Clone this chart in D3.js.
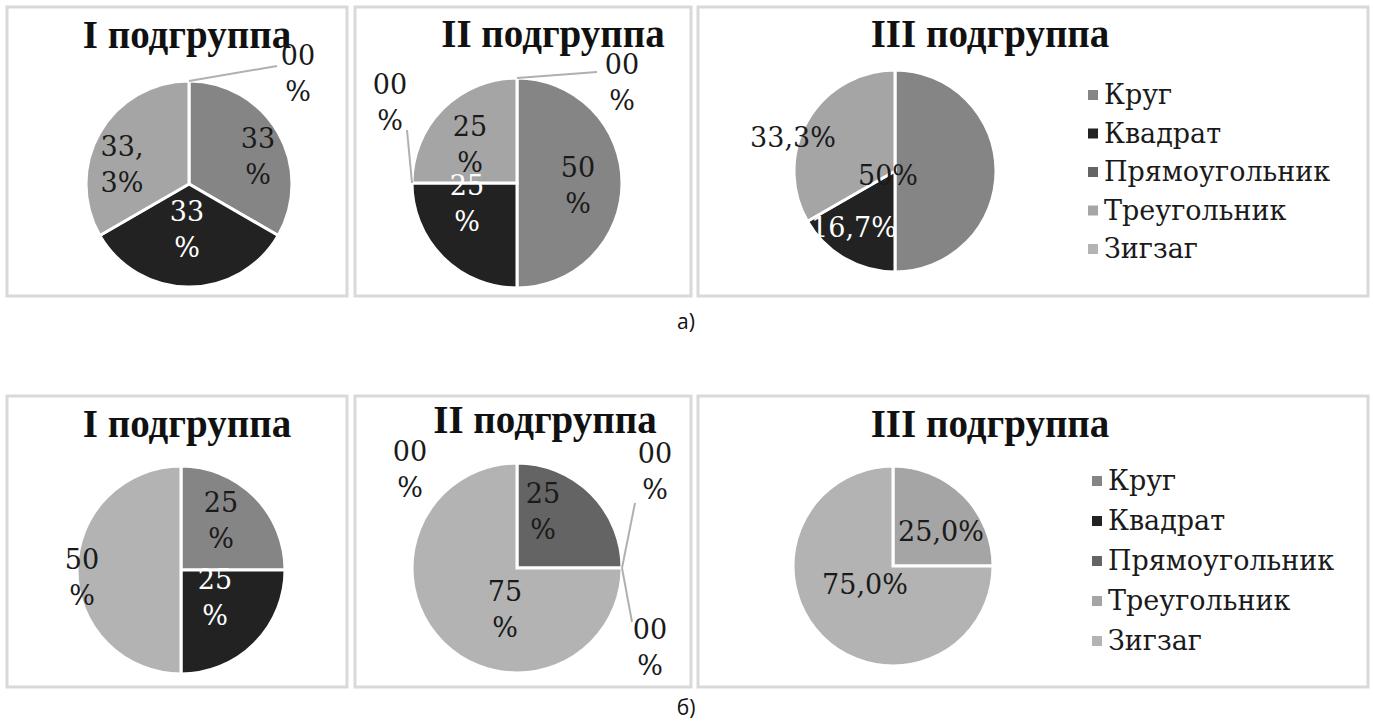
<!DOCTYPE html>
<html>
<head>
<meta charset="utf-8">
<script src="https://cdn.jsdelivr.net/npm/d3@7"></script>
<style>
  html, body { margin: 0; padding: 0; background: #ffffff; }
  svg { display: block; }
  .title { font-family: "Liberation Serif", "DejaVu Serif", serif; font-weight: bold; }
  .txt { font-family: "DejaVu Serif", "Liberation Serif", serif; font-weight: normal; }
</style>
</head>
<body>
<svg id="chart" width="1373" height="724"></svg>
<script>
// Shape categories and their fills (shared legend)
const categories = ["Круг", "Квадрат", "Прямоугольник", "Треугольник", "Зигзаг"];
const categoryColors = ["#858585", "#222222", "#646464", "#a5a5a5", "#b3b3b3"];
const subgroupTitles = ["I подгруппа", "II подгруппа", "III подгруппа"];
const figureCaptions = ["а)", "б)"];

// Shares (%) per subgroup, figure а)
const valuesA1 = [33.3, 33.3, 0, 33.3, 0];
const valuesA2 = [50, 25, 0, 25, 0];
const valuesA3 = [50, 16.7, 0, 33.3, 0];
// Shares (%) per subgroup, figure б)
const valuesB1 = [25, 25, 0, 0, 50];
const valuesB2 = [0, 0, 25, 0, 75];
const valuesB3 = [0, 0, 0, 25, 75];

// Data label texts ("|" = line break, null = not shown)
const labelsA1 = ["33|%", "33|%", null, "33,|3%", "00|%"];
const labelsA2 = ["50|%", "25|%", "00|%", "25|%", "00|%"];
const labelsA3 = ["50%", "16,7%", null, "33,3%", null];
const labelsB1 = ["25|%", "25|%", null, null, "50|%"];
const labelsB2 = ["00|%", "00|%", "25|%", "00|%", "75|%"];
const labelsB3 = [null, null, null, "25,0%", "75,0%"];

// ---- layout ----
const rows = [
  { y0: 7, y1: 296, captionY: 322, values: [valuesA1, valuesA2, valuesA3], labels: [labelsA1, labelsA2, labelsA3] },
  { y0: 396, y1: 687, captionY: 708, values: [valuesB1, valuesB2, valuesB3], labels: [labelsB1, labelsB2, labelsB3] }
];
const panelX = [[7, 347], [355, 691], [698, 1368]];

// per panel: pie centre, radius, title position, label placement
// place: [dx, dy] of the label block relative to the pie centre;
// leader: end of the leader line, attach = angle (deg) where it meets the pie
const panelLayout = [
  [
    { cx: 189, cy: 184, r: 103, tx: 187, ty: 48,
      place: [[69, -27], [-2, 46], null, [-67, -19], [109, -110]],
      leader: [null, null, null, null, { end: [88, -118] }] },
    { cx: 517, cy: 183, r: 105, tx: 553, ty: 47,
      place: [[61, 3], [-50, 21], [-127, -80], [-47, -38], [105, -100]],
      leader: [null, null, { end: [-110, -53] }, null, { end: [80, -111] }] },
    { cx: 895, cy: 171, r: 101, tx: 990, ty: 47,
      place: [[-7, 5], [-41, 57], null, [-102, -33], null],
      leader: [null, null, null, null, null],
      legend: { x: 1093, y: 95, step: 38.5 } }
  ],
  [
    { cx: 181, cy: 570, r: 104, tx: 187, ty: 437,
      place: [[40, -49], [34, 28], null, null, [-99, 8]],
      leader: [null, null, null, null, null] },
    { cx: 517, cy: 568, r: 105, tx: 545, ty: 433,
      place: [[-107, -98], [133, 80], [26, -56], [138, -96], [-12, 42]],
      leader: [null, { end: [115, 54], attach: 90 }, null, { end: [118, -65] }, null] },
    { cx: 893, cy: 566, r: 100, tx: 990, ty: 437,
      place: [null, null, null, [48, -34], [-28, 19]],
      leader: [null, null, null, null, null],
      legend: { x: 1097, y: 481, step: 40 } }
  ]
];

const svg = d3.select("#chart");
const pie = d3.pie().sort(null).value(d => d.value);
const color = d3.scaleOrdinal().domain(categories).range(categoryColors);

rows.forEach((row, ri) => {
  panelX.forEach(([x0, x1], pi) => {
    const lay = panelLayout[ri][pi];
    const g = svg.append("g");

    // panel frame
    g.append("rect")
      .attr("x", x0).attr("y", row.y0)
      .attr("width", x1 - x0).attr("height", row.y1 - row.y0)
      .attr("fill", "#ffffff")
      .attr("stroke", "#d9d9d9").attr("stroke-width", 3);

    // title
    g.append("text")
      .attr("class", "title")
      .attr("x", lay.tx).attr("y", lay.ty)
      .attr("text-anchor", "middle")
      .attr("font-size", 39).attr("fill", "#111")
      .text(subgroupTitles[pi]);

    const data = categories.map((c, i) => ({ cat: c, value: row.values[pi][i] }));
    const arcs = pie(data);
    const arc = d3.arc().innerRadius(0).outerRadius(lay.r);
    const pg = g.append("g").attr("transform", `translate(${lay.cx},${lay.cy})`);

    // slices
    pg.selectAll("path.slice")
      .data(arcs.filter(a => a.data.value > 0))
      .join("path")
      .attr("class", "slice")
      .attr("d", arc)
      .attr("fill", a => color(a.data.cat))
      .attr("stroke", "#ffffff")
      .attr("stroke-width", 3);

    // leader lines for zero-share labels
    arcs.forEach((a, i) => {
      const ld = lay.leader[i];
      if (!ld) return;
      const ang = ld.attach !== undefined ? ld.attach * Math.PI / 180 : a.startAngle;
      pg.append("line")
        .attr("x1", Math.sin(ang) * lay.r).attr("y1", -Math.cos(ang) * lay.r)
        .attr("x2", ld.end[0]).attr("y2", ld.end[1])
        .attr("stroke", "#b0b0b0").attr("stroke-width", 2);
    });

    // data labels
    arcs.forEach((a, i) => {
      const txt = row.labels[pi][i];
      const p = lay.place[i];
      if (!txt || !p) return;
      const lines = txt.split("|");
      const onDark = a.data.cat === "Квадрат" && a.data.value > 0;
      const t = pg.append("text")
        .attr("class", "txt")
        .attr("text-anchor", "middle")
        .attr("font-size", 27)
        .attr("fill", onDark ? "#ffffff" : "#1a1a1a");
      lines.forEach((ln, k) => {
        t.append("tspan")
          .attr("x", p[0])
          .attr("y", p[1] + (k - (lines.length - 1) / 2) * 36)
          .attr("dy", "0.35em")
          .text(ln);
      });
    });

    // legend
    if (lay.legend) {
      const lg = g.append("g");
      categories.forEach((c, i) => {
        const y = lay.legend.y + i * lay.legend.step;
        lg.append("rect")
          .attr("x", lay.legend.x - 5).attr("y", y - 5)
          .attr("width", 10).attr("height", 10)
          .attr("fill", color(c));
        lg.append("text")
          .attr("class", "txt")
          .attr("x", lay.legend.x + 11).attr("y", y)
          .attr("dy", "0.35em")
          .attr("font-size", 27)
          .attr("fill", "#1a1a1a")
          .text(c);
      });
    }
  });

  // figure caption
  svg.append("text")
    .attr("x", 686).attr("y", row.captionY)
    .attr("text-anchor", "middle").attr("dy", "0.35em")
    .attr("font-family", "'Open Sans', 'Noto Sans', sans-serif")
    .attr("font-size", 21).attr("fill", "#111")
    .text(figureCaptions[ri]);
});
</script>
</body>
</html>
